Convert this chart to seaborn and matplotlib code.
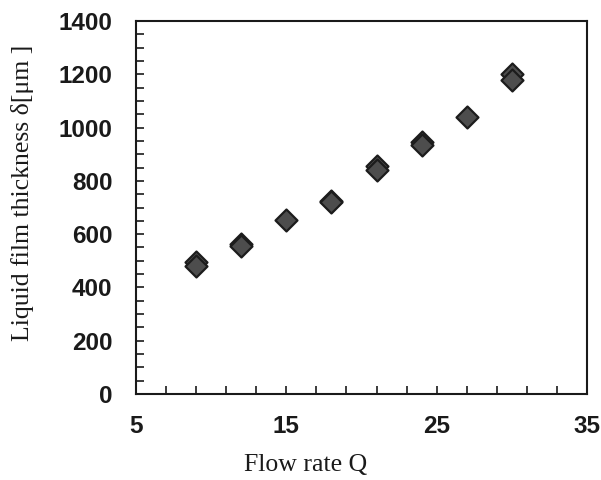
import matplotlib
matplotlib.use("Agg")
import matplotlib.pyplot as plt
import seaborn as sns
import numpy as np
import pandas as pd
from matplotlib.ticker import FixedLocator, MultipleLocator

# Data
flow_rate = [9, 9, 12, 12, 15, 18, 18, 21, 21, 24, 24, 27, 30, 30]
thickness = [495, 480, 562, 556, 653, 726, 720, 855, 840, 945, 936, 1040, 1200, 1177]
x_major = [5, 15, 25, 35]
x_minor = list(range(5, 36, 2))
y_major = [0, 200, 400, 600, 800, 1000, 1200, 1400]

df = pd.DataFrame({"Q": flow_rate, "delta": thickness})

sns.set_style("ticks")
plt.rcParams["font.family"] = ["Liberation Sans", "DejaVu Sans"]

fig = plt.figure(figsize=(6.01, 4.8), dpi=100)
ax = fig.add_axes([136 / 601, 86 / 480, 451 / 601, 373 / 480])

sns.scatterplot(data=df, x="Q", y="delta", ax=ax, marker="D", s=125,
                color="#4d4d4d", edgecolor="#1c1c1c", linewidth=1.6, zorder=3,
                legend=False)

ax.set_xlim(5, 35)
ax.set_ylim(0, 1400)
ax.xaxis.set_major_locator(FixedLocator(x_major))
ax.xaxis.set_minor_locator(FixedLocator(x_minor))
ax.yaxis.set_major_locator(FixedLocator(y_major))
ax.yaxis.set_minor_locator(MultipleLocator(50))

for s in ax.spines.values():
    s.set_linewidth(1.5)
    s.set_color("#1a1a1a")
    s.set_visible(True)

ax.tick_params(which="both", direction="in", length=6, width=1.2, color="#1a1a1a",
               top=False, right=False)
ax.tick_params(axis="x", which="major", pad=15)
ax.tick_params(axis="y", which="major", pad=17)

for lab in ax.get_xticklabels() + ax.get_yticklabels():
    lab.set_fontsize(17.5)
    lab.set_fontweight("bold")
    lab.set_color("#1a1a1a")

serif = ["Liberation Serif", "DejaVu Serif"]
ax.set_xlabel("Flow rate Q", family=serif, fontsize=18.5, color="#1a1a1a")
ax.set_ylabel("Liquid film thickness δ[μm ]", family=serif, fontsize=18.5, color="#1a1a1a")
ax.xaxis.set_label_coords((305.5 - 136) / 451, -(454 - 394) / 373)
ax.yaxis.set_label_coords(-(136 - 34) / 451, (394 - 193) / 373)

fig.savefig("out.png", dpi=100)
